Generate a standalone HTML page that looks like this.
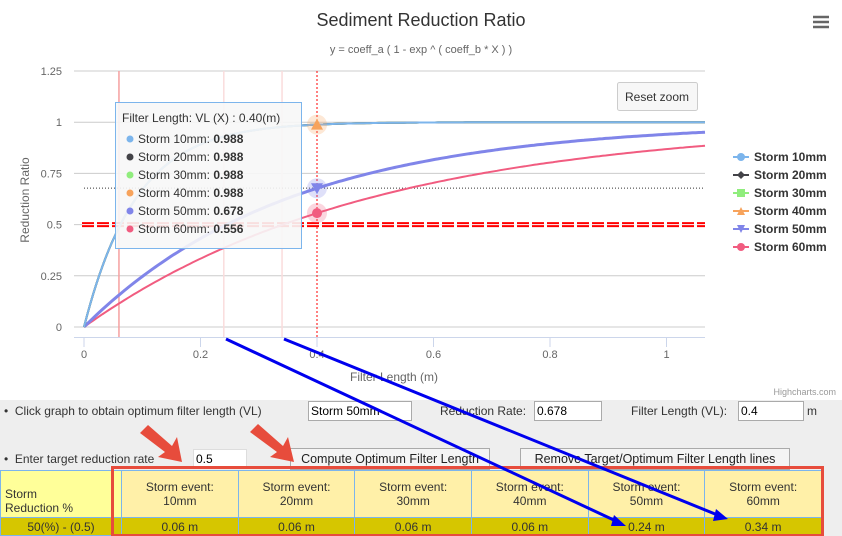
<!DOCTYPE html>
<html><head><meta charset="utf-8"><style>
body{margin:0;width:842px;height:536px;overflow:hidden;background:#eee;font-family:"Liberation Sans","DejaVu Sans",sans-serif;position:relative}
.abs{position:absolute}
input{font-family:inherit}
</style></head><body>
<div class="abs" style="left:0;top:0;width:842px;height:400px;background:#fff"></div>
<svg class="abs" style="left:0;top:0" width="842" height="400" id="chart">
<text x="421" y="26" text-anchor="middle" font-size="18" fill="#333">Sediment Reduction Ratio</text>
<text x="421" y="53" text-anchor="middle" font-size="11" fill="#666">y = coeff_a ( 1 - exp ^ ( coeff_b * X ) )</text>
<g stroke="#666" stroke-width="2.5"><line x1="813" y1="17" x2="829" y2="17"/><line x1="813" y1="22" x2="829" y2="22"/><line x1="813" y1="27" x2="829" y2="27"/></g>
<g id="grid"></g><g id="plot"></g>
<text transform="translate(29,200) rotate(-90)" text-anchor="middle" font-size="12" fill="#666">Reduction Ratio</text>
<text x="394" y="381" text-anchor="middle" font-size="12" fill="#666">Filter Length (m)</text>
<text x="836" y="395" text-anchor="end" font-size="9" fill="#999">Highcharts.com</text>
<g><rect x="617.5" y="82.5" width="80" height="28" rx="2" fill="#f7f7f7" stroke="#ccc"/><text x="657" y="101" text-anchor="middle" font-size="12" fill="#333">Reset zoom</text></g>
<g id="legend"></g>
<g>
<rect x="115.5" y="102.5" width="186" height="146" fill="#f7f7f7" fill-opacity="0.9" stroke="#7cb5ec"/>
<text x="122" y="122" font-size="12" fill="#333">Filter Length: VL (X) : 0.40(m)</text>
<g id="tiprows"></g></g>
</svg>
<div class="abs" style="left:4px;top:404px;font-size:12px;color:#333">• &nbsp;Click graph to obtain optimum filter length (VL)</div>
<input class="abs" style="left:308px;top:401px;width:98px;height:16px;font-size:12px;border:1px solid #aaa;padding:1px 2px" value="Storm 50mm">
<div class="abs" style="left:440px;top:404px;font-size:12px;color:#333">Reduction Rate:</div>
<input class="abs" style="left:534px;top:401px;width:62px;height:16px;font-size:12px;border:1px solid #aaa;padding:1px 2px" value="0.678">
<div class="abs" style="left:631px;top:404px;font-size:12px;color:#333">Filter Length (VL):</div>
<input class="abs" style="left:738px;top:401px;width:60px;height:16px;font-size:12px;border:1px solid #aaa;padding:1px 2px" value="0.4">
<div class="abs" style="left:807px;top:404px;font-size:12px;color:#333">m</div>
<div class="abs" style="left:4px;top:452px;font-size:12px;color:#333">• &nbsp;Enter target reduction rate</div>
<input class="abs" style="left:193px;top:449px;width:48px;height:16px;font-size:12px;border:1px solid #ddd;padding:1px 2px" value="0.5">
<div class="abs" style="left:290px;top:448px;width:198px;height:20px;background:#f4f4f4;border:1px solid #aaa;font-size:12.5px;text-align:center;line-height:20px;color:#222">Compute Optimum Filter Length</div>
<div class="abs" style="left:520px;top:448px;width:268px;height:20px;background:#f4f4f4;border:1px solid #aaa;font-size:12.5px;text-align:center;line-height:20px;color:#222">Remove Target/Optimum Filter Length lines</div>
<table class="abs" style="left:0;top:470px;width:822px;border-collapse:collapse;font-size:12px;color:#333">
<tr style="height:47px"><td style="background:#ffff99;border:1px solid #7cb5ec;width:112px;vertical-align:bottom;padding:2px 4px">Storm<br>Reduction %</td>
<td style="background:#fff0a8;border:1px solid #7cb5ec;text-align:center">Storm event:<br>10mm</td>
<td style="background:#fff0a8;border:1px solid #7cb5ec;text-align:center">Storm event:<br>20mm</td>
<td style="background:#fff0a8;border:1px solid #7cb5ec;text-align:center">Storm event:<br>30mm</td>
<td style="background:#fff0a8;border:1px solid #7cb5ec;text-align:center">Storm event:<br>40mm</td>
<td style="background:#fff0a8;border:1px solid #7cb5ec;text-align:center">Storm event:<br>50mm</td>
<td style="background:#fff0a8;border:1px solid #7cb5ec;text-align:center">Storm event:<br>60mm</td></tr>
<tr style="height:18px;background:#d6c600;text-align:center"><td style="border:1px solid #7cb5ec">50(%) - (0.5)</td><td style="border:1px solid #7cb5ec">0.06 m</td><td style="border:1px solid #7cb5ec">0.06 m</td><td style="border:1px solid #7cb5ec">0.06 m</td><td style="border:1px solid #7cb5ec">0.06 m</td><td style="border:1px solid #7cb5ec">0.24 m</td><td style="border:1px solid #7cb5ec">0.34 m</td></tr>
</table>
<svg class="abs" style="left:0;top:0;pointer-events:none" width="842" height="536">
<rect x="112.5" y="467.5" width="710" height="68" fill="none" stroke="#e74c3c" stroke-width="3"/>
<g stroke="#0000ee" stroke-width="3"><line x1="226" y1="339" x2="618" y2="522"/><line x1="284" y1="339" x2="720" y2="516"/></g>
<polygon points="614,515 626,526 611,526" fill="#0000ee"/><polygon points="716,509 728,519 713,521" fill="#0000ee"/>
<g fill="#e74c3c"><polygon points="140,433 148,425 172,446 177,437 182,462 158,457 165,452"/><polygon points="250,432 258,424 283,446 288,437 294,462 270,457 277,452"/></g>
</svg>
<script>
const seriesNames=["Storm 10mm","Storm 20mm","Storm 30mm","Storm 40mm","Storm 50mm","Storm 60mm"];
const coeffA=[1,1,1,1,1,1];
const coeffB=[-11.1,-11.1,-11.1,-11.1,-2.83,-2.03];
const tipValues=["0.988","0.988","0.988","0.988","0.678","0.556"];
const xTicks=[0,0.2,0.4,0.6,0.8,1];
const yTicks=[0,0.25,0.5,0.75,1,1.25];
const optimumX=[0.06,0.24,0.34];
const targetRate=0.5;const selectedX=0.4;const selectedY=0.678;
const colors=["#7cb5ec","#434348","#90ed7d","#f7a35c","#8085e9","#f15c80"];
const X0=84,X1=705,Y0=327,Y1=71,XMAX=(X1-X0)/582.5;
const sx=v=>X0+v*582.5, sy=v=>Y0-v*(Y0-Y1)/1.25;
const NS="http://www.w3.org/2000/svg";
function mk(t,a,p){const e=document.createElementNS(NS,t);for(const k in a)e.setAttribute(k,a[k]);p.appendChild(e);return e;}
const grid=document.getElementById('grid'),plot=document.getElementById('plot');
yTicks.forEach(v=>{const l=mk('line',{x1:X0-10,x2:X1,y1:sy(v),y2:sy(v),stroke:'#ccc'},grid);


const t=mk('text',{x:62,y:sy(v)+4,'text-anchor':'end','font-size':11,fill:'#666'},grid);t.textContent=v;

});
mk('line',{x1:X0-10,x2:X1,y1:337.5,y2:337.5,stroke:'#ccd6eb'},grid);
xTicks.forEach(v=>{mk('line',{x1:sx(v),x2:sx(v),y1:337,y2:347,stroke:'#ccd6eb'},grid);
const t=mk('text',{x:sx(v),y:358,'text-anchor':'middle','font-size':11,fill:'#666'},grid);t.textContent=v;

});
optimumX.forEach((v,i)=>{const l=mk('line',{x1:sx(v),x2:sx(v),y1:Y1,y2:337,stroke:i==0?'#f5a0a0':'#fadcdc','stroke-width':1.5},grid);

});
mk('line',{x1:sx(selectedX),x2:sx(selectedX),y1:Y1,y2:337,stroke:'red','stroke-dasharray':'2,2'},grid);
mk('line',{x1:X0,x2:X1,y1:sy(selectedY),y2:sy(selectedY),stroke:'#333','stroke-dasharray':'1,2'},grid);
mk('line',{x1:X0-2,x2:X1,y1:sy(targetRate),y2:sy(targetRate),stroke:'red','stroke-width':5,'stroke-dasharray':'12,3'},grid);
mk('line',{x1:X0-2,x2:X1,y1:sy(targetRate),y2:sy(targetRate),stroke:'#fff','stroke-width':1},grid);
const f=(i,x)=>coeffA[i]*(1-Math.exp(coeffB[i]*x));
for(let i=5;i>=0;i--){let d='';for(let k=0;k<=200;k++){const x=XMAX*k/200;d+=(k?'L':'M')+sx(x).toFixed(1)+','+sy(f(i,x)).toFixed(1);}
const p=mk('path',{d:d,fill:'none',stroke:colors[i],'stroke-width':i==4?3:2},plot);

}
[3,4,5].forEach(i=>{const cx=sx(selectedX),cy=sy(f(i,selectedX));
mk('circle',{cx:cx,cy:cy,r:10,fill:colors[i],'fill-opacity':0.25},plot);
const m=i==5?mk('circle',{cx:cx,cy:cy,r:5,fill:colors[i]},plot):mk('polygon',{points:i==3?`${cx-6},${cy+5} ${cx+6},${cy+5} ${cx},${cy-6}`:`${cx-6},${cy-5} ${cx+6},${cy-5} ${cx},${cy+6}`,fill:colors[i]},plot);

});
const lg=document.getElementById('legend');
seriesNames.forEach((n,i)=>{const y=157+i*18;const g=mk('g',{},lg);


mk('line',{x1:733,x2:749,y1:y,y2:y,stroke:colors[i],'stroke-width':2},g);
if(i==0||i==5)mk('circle',{cx:741,cy:y,r:4,fill:colors[i]},g);
else if(i==1)mk('polygon',{points:`741,${y-4} 745,${y} 741,${y+4} 737,${y}`,fill:colors[i]},g);
else if(i==2)mk('rect',{x:737,y:y-4,width:8,height:8,fill:colors[i]},g);
else if(i==3)mk('polygon',{points:`737,${y+4} 745,${y+4} 741,${y-4}`,fill:colors[i]},g);
else mk('polygon',{points:`737,${y-4} 745,${y-4} 741,${y+4}`,fill:colors[i]},g);
const t=mk('text',{x:754,y:y+4,'font-size':12,'font-weight':'bold',fill:'#333'},g);t.textContent=n;});
const tr=document.getElementById('tiprows');
seriesNames.forEach((n,i)=>{const y=143+i*18;mk('circle',{cx:130,cy:y-4,r:3.5,fill:colors[i]},tr);
const t=mk('text',{x:138,y:y,'font-size':12,fill:'#333'},tr);t.textContent=n+': ';
const b=mk('tspan',{'font-weight':'bold'},t);b.textContent=tipValues[i];});
</script>
</body></html>
